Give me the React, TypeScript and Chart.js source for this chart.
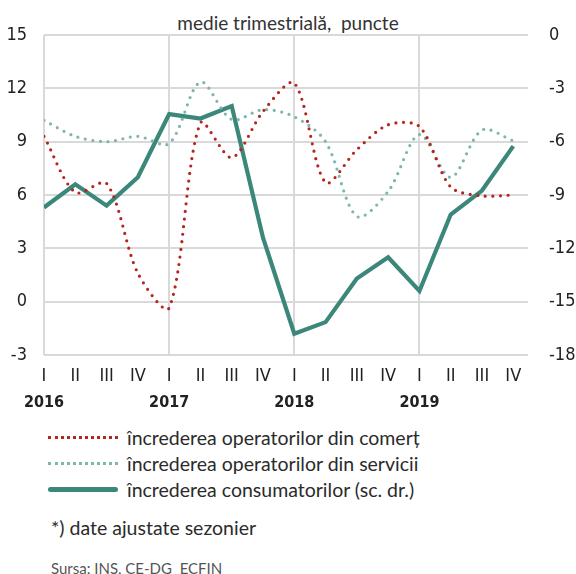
import React, { useEffect, useRef } from "react";
import { Chart, registerables } from "chart.js";

Chart.register(...registerables);

const quarterLabels = ["I", "II", "III", "IV", "I", "II", "III", "IV", "I", "II", "III", "IV", "I", "II", "III", "IV"];
const yearLabels = ["2016", "2017", "2018", "2019"];
const commerce = [9.3, 6.15, 6.65, 1.6, -0.35, 10.05, 8.1, 10.7, 12.3, 6.7, 8.55, 9.95, 9.85, 6.45, 5.95, 6.0];
const services = [10.2, 9.3, 9.0, 9.3, 8.9, 12.35, 10.25, 10.8, 10.4, 9.0, 4.8, 6.2, 9.4, 7.0, 9.65, 9.05];
const consumers = [-9.7, -8.4, -9.6, -8.0, -4.45, -4.7, -4.0, -11.4, -16.8, -16.15, -13.7, -12.5, -14.4, -10.1, -8.75, -6.25];
const leftTicks = [-3, 0, 3, 6, 9, 12, 15];
const rightTicks = [-18, -15, -12, -9, -6, -3, 0];
const seriesNames = [
  "încrederea operatorilor din comerț",
  "încrederea operatorilor din servicii",
  "încrederea consumatorilor (sc. dr.)",
];
const titleText = "medie trimestrială,  puncte";
const noteText = "*) date ajustate sezonier";
const sourceText = "Sursa: INS, CE-DG  ECFIN";

const RED = "#b3261e";
const LIGHT = "#7db7ab";
const TEAL = "#3b877a";
const GRID = "#d9d9d9";
const NARROW = "'DejaVu Sans Condensed', sans-serif";
const SANS = "Lato, 'Open Sans', sans-serif";

const toPts = (arr: number[]) => arr.map((v, i) => ({ x: i, y: v }));

export default function App() {
  const ref = useRef<HTMLCanvasElement | null>(null);
  useEffect(() => {
    if (!ref.current) return;
    const chart = new Chart(ref.current, {
      type: "line",
      data: {
        datasets: [
          {
            label: seriesNames[0],
            data: toPts(commerce),
            borderColor: RED,
            borderWidth: 3.2,
            borderDash: [0, 7.6],
            borderCapStyle: "round",
            pointRadius: 0,
            tension: 0.3,
            yAxisID: "y",
            xAxisID: "x",
          },
          {
            label: seriesNames[1],
            data: toPts(services),
            borderColor: LIGHT,
            borderWidth: 3.2,
            borderDash: [0, 7.6],
            borderCapStyle: "round",
            pointRadius: 0,
            tension: 0.32,
            yAxisID: "y",
            xAxisID: "x",
          },
          {
            label: seriesNames[2],
            data: toPts(consumers),
            borderColor: TEAL,
            borderWidth: 4.2,
            pointRadius: 0,
            tension: 0,
            borderJoinStyle: "miter",
            yAxisID: "y1",
            xAxisID: "x",
          },
        ],
      },
      options: {
        animation: false,
        responsive: false,
        devicePixelRatio: 1,
        layout: { padding: { top: 35, left: 0, right: 0, bottom: 0 } },
        plugins: { legend: { display: false }, tooltip: { enabled: false }, title: { display: false } },
        scales: {
          x: {
            type: "linear",
            position: "bottom",
            min: 0,
            max: 15.47,
            afterBuildTicks: (s: any) => {
              s.ticks = quarterLabels.map((_, i) => ({ value: i }));
            },
            afterFit: (s: any) => {
              s.height = 34;
            },
            ticks: {
              autoSkip: false,
              maxRotation: 0,
              padding: 11,
              color: "#222",
              font: { family: NARROW, size: 18 },
              callback: (v: any) => quarterLabels[v as number] ?? "",
            },
            grid: {
              drawTicks: false,
              lineWidth: 2,
              color: (ctx: any) => (ctx.tick && ctx.tick.value % 4 === 0 ? GRID : "rgba(0,0,0,0)"),
            },
            border: { display: false },
          },
          x2: {
            type: "linear",
            position: "bottom",
            min: 0,
            max: 15.47,
            afterBuildTicks: (s: any) => {
              s.ticks = yearLabels.map((_, i) => ({ value: i * 4 }));
            },
            afterFit: (s: any) => {
              s.height = 26;
            },
            ticks: {
              autoSkip: false,
              maxRotation: 0,
              padding: 4,
              color: "#222",
              font: { family: NARROW, size: 16, weight: "bold" },
              callback: (v: any) => yearLabels[(v as number) / 4] ?? "",
            },
            grid: { display: false, drawTicks: false },
            border: { display: false },
          },
          y: {
            type: "linear",
            position: "left",
            min: -3,
            max: 15,
            afterBuildTicks: (s: any) => {
              s.ticks = leftTicks.map((v) => ({ value: v }));
            },
            afterFit: (s: any) => {
              s.width = 44;
            },
            ticks: { padding: 17, color: "#222", font: { family: NARROW, size: 18 } },
            grid: { drawTicks: false, lineWidth: 2, color: GRID },
            border: { display: false },
          },
          y1: {
            type: "linear",
            position: "right",
            min: -18,
            max: 0,
            afterBuildTicks: (s: any) => {
              s.ticks = rightTicks.map((v) => ({ value: v }));
            },
            afterFit: (s: any) => {
              s.width = 48;
            },
            ticks: { padding: 21, color: "#222", font: { family: NARROW, size: 18 } },
            grid: { display: false, drawTicks: false },
            border: { display: false },
          },
        },
      },
    } as any);
    return () => chart.destroy();
  }, []);

  const rowStyle: React.CSSProperties = {
    position: "absolute",
    left: 48,
    height: 26,
    display: "flex",
    alignItems: "center",
    whiteSpace: "nowrap",
  };
  const textStyle: React.CSSProperties = {
    fontFamily: SANS,
    fontSize: 19.5,
    color: "#2b2b2b",
    marginLeft: 9,
  };
  const sample = (style: React.CSSProperties) => <div style={{ width: 70, height: 0, ...style }} />;

  return (
    <div style={{ position: "absolute", left: 0, top: 0, width: 576, height: 574, background: "#fff" }}>
      <div
        style={{
          position: "absolute",
          top: 12,
          left: 0,
          width: 576,
          textAlign: "center",
          fontFamily: SANS,
          fontSize: 19,
          color: "#333",
          lineHeight: "22px",
          whiteSpace: "pre",
        }}
      >
        {titleText}
      </div>
      <canvas ref={ref} width={576} height={415} style={{ position: "absolute", left: 0, top: 0, width: 576, height: 415 }} />
      <div style={{ ...rowStyle, top: 424 }}>
        {sample({ borderTop: `3px dotted ${RED}` })}
        <span style={textStyle}>{seriesNames[0]}</span>
      </div>
      <div style={{ ...rowStyle, top: 450 }}>
        {sample({ borderTop: `3px dotted ${LIGHT}` })}
        <span style={textStyle}>{seriesNames[1]}</span>
      </div>
      <div style={{ ...rowStyle, top: 476 }}>
        {sample({ borderTop: `5px solid ${TEAL}`, borderRadius: 3 })}
        <span style={textStyle}>{seriesNames[2]}</span>
      </div>
      <div style={{ position: "absolute", left: 51, top: 515, fontFamily: SANS, fontSize: 19.5, color: "#2b2b2b", lineHeight: "26px" }}>
        {noteText}
      </div>
      <div
        style={{
          position: "absolute",
          left: 51,
          top: 558,
          fontFamily: SANS,
          fontSize: 15,
          color: "#555",
          lineHeight: "20px",
          whiteSpace: "pre",
        }}
      >
        {sourceText}
      </div>
    </div>
  );
}
